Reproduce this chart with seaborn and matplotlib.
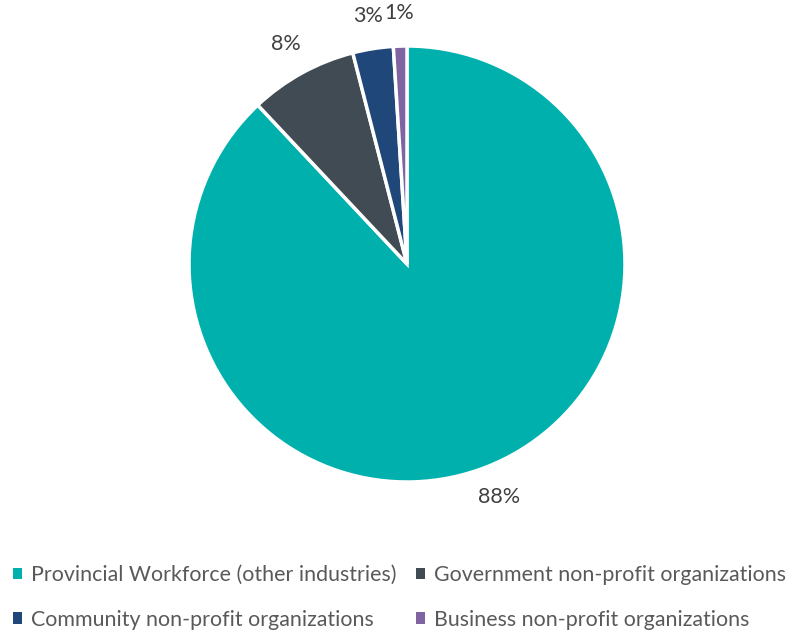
import matplotlib
matplotlib.use("Agg")
import matplotlib.pyplot as plt
from matplotlib.patches import Patch
import seaborn as sns

categories = [
    "Provincial Workforce (other industries)",
    "Government non-profit organizations",
    "Community non-profit organizations",
    "Business non-profit organizations",
]
shares = [88, 8, 3, 1]
colors = ["#00B0AD", "#414B54", "#1F477A", "#8064A2"]

sns.set_theme(style="white")
plt.rcParams["font.family"] = ["Lato", "DejaVu Sans"]

W, H = 801, 630
fig = plt.figure(figsize=(W / 100, H / 100), dpi=100)
cx, cy, r = 407, 264, 218
ax = fig.add_axes([(cx - r) / W, (H - cy - r) / H, 2 * r / W, 2 * r / H])

wedges, texts = ax.pie(
    shares,
    colors=colors,
    startangle=90,
    counterclock=False,
    labels=[f"{v}%" for v in shares],
    labeldistance=1.15,
    wedgeprops=dict(edgecolor="white", linewidth=2.5),
    textprops=dict(color="#404040", fontsize=15.5),
)
for t in texts:
    t.set_ha("center")
    t.set_va("center")
ax.set_aspect("equal")
ax.set_xlim(-1, 1)
ax.set_ylim(-1, 1)
ax.axis("off")

# legend reads row by row: reorder entries for matplotlib's column-major fill
order = [0, 2, 1, 3]
handles = [Patch(facecolor=colors[i], edgecolor="none") for i in order]
labels = [categories[i] for i in order]
leg = fig.legend(
    handles,
    labels,
    loc="lower left",
    bbox_to_anchor=(-0.008, -0.03),
    ncol=2,
    frameon=False,
    fontsize=15.4,
    handlelength=0.45,
    handleheight=0.45,
    handletextpad=0.4,
    columnspacing=0.9,
    labelspacing=1.15,
    labelcolor="#595959",
)

fig.savefig("out.png", dpi=100)
